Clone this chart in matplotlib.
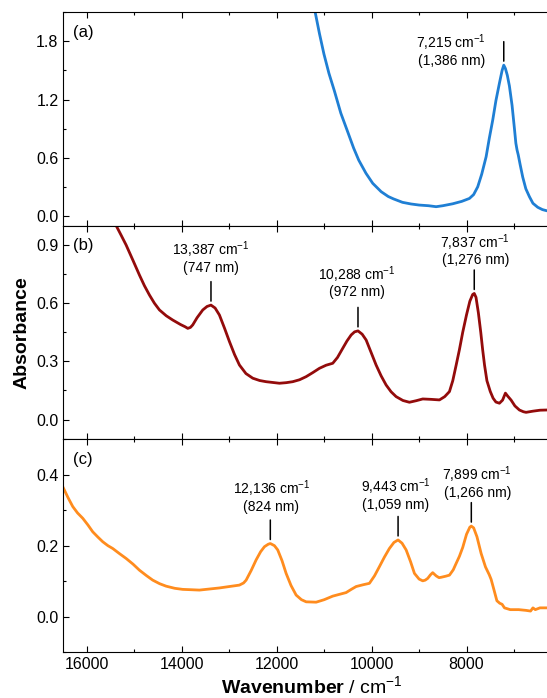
import numpy as np
import matplotlib
matplotlib.use('Agg')
import matplotlib.pyplot as plt
from matplotlib.ticker import MultipleLocator, FormatStrFormatter

plt.rcParams['font.family'] = ['Liberation Sans', 'DejaVu Sans']
plt.rcParams['mathtext.fontset'] = 'custom'
plt.rcParams['mathtext.rm'] = 'Liberation Sans'
plt.rcParams['mathtext.it'] = 'Liberation Sans:italic'
plt.rcParams['mathtext.bf'] = 'Liberation Sans:bold'

# ---------------------------------------------------------
# Spectra (wavenumber / cm-1, absorbance)
# ---------------------------------------------------------
wn_a = [11300, 11190, 11100, 11006, 10900, 10786, 10650, 10492, 10380, 10272,
        10120, 9977, 9800, 9650, 9537, 9350, 9170, 9000, 8800, 8641, 8500,
        8291, 8100, 7939, 7850, 7764, 7680, 7587, 7520, 7447, 7380, 7306,
        7250, 7215, 7180, 7140, 7096, 7040, 6990, 6960, 6935, 6910, 6870,
        6815, 6750, 6674, 6600, 6499, 6400, 6316, 6200, 6000]
abs_a = [2.35, 2.10, 1.88, 1.67, 1.47, 1.29, 1.06, 0.85, 0.70, 0.575,
         0.44, 0.336, 0.25, 0.20, 0.175, 0.14, 0.123, 0.112, 0.105, 0.095, 0.105,
         0.125, 0.15, 0.18, 0.22, 0.30, 0.43, 0.61, 0.80, 0.99, 1.19, 1.37,
         1.50, 1.555, 1.52, 1.45, 1.34, 1.14, 0.90, 0.75, 0.68, 0.63, 0.53,
         0.40, 0.28, 0.198, 0.13, 0.089, 0.065, 0.054, 0.045, 0.04]

wn_b = [15450, 15386, 15280, 15176, 15030, 14895, 14790, 14684, 14580, 14473,
        14330, 14193, 14030, 13930, 13876, 13820, 13771, 13680, 13560, 13470,
        13387, 13300, 13209, 13100, 12998, 12890, 12787, 12650, 12506, 12360,
        12225, 11944, 11800, 11664, 11520, 11381, 11240, 11101, 10960, 10820,
        10720, 10610, 10520, 10432, 10360, 10288, 10200, 10116, 10010, 9906,
        9800, 9695, 9590, 9484, 9340, 9204, 9060, 8923, 8750, 8571, 8460,
        8360, 8290, 8219, 8150, 8080, 8000, 7930, 7870, 7837, 7800, 7750,
        7700, 7660, 7620, 7570, 7500, 7440, 7380, 7306, 7240, 7180, 7130,
        7060, 6980, 6885, 6800, 6745, 6600, 6450, 6316, 6100]
abs_b = [1.05, 1.00, 0.95, 0.90, 0.82, 0.745, 0.69, 0.642, 0.60, 0.565,
         0.535, 0.513, 0.49, 0.478, 0.47, 0.475, 0.488, 0.525, 0.565, 0.583,
         0.59, 0.575, 0.539, 0.47, 0.402, 0.335, 0.281, 0.237, 0.213, 0.201,
         0.195, 0.187, 0.19, 0.195, 0.205, 0.221, 0.242, 0.264, 0.28, 0.29,
         0.32, 0.367, 0.405, 0.436, 0.452, 0.457, 0.44, 0.41, 0.345, 0.281,
         0.225, 0.178, 0.143, 0.118, 0.098, 0.089, 0.097, 0.106, 0.104, 0.101, 0.118,
         0.144, 0.20, 0.28, 0.36, 0.45, 0.54, 0.61, 0.645, 0.65, 0.63, 0.55,
         0.45, 0.36, 0.28, 0.20, 0.145, 0.11, 0.09, 0.084, 0.10, 0.136, 0.12,
         0.10, 0.07, 0.049, 0.04, 0.037, 0.043, 0.048, 0.049, 0.05]

wn_c = [16512, 16400, 16301, 16200, 16090, 15980, 15880, 15770, 15669, 15560,
        15458, 15320, 15176, 15030, 14895, 14750, 14615, 14470, 14332, 14150,
        13983, 13800, 13631, 13420, 13210, 13000, 12788, 12700, 12646, 12540,
        12435, 12340, 12260, 12180, 12136, 12050, 11980, 11890, 11803, 11700,
        11592, 11480, 11381, 11170, 11000, 10820, 10680, 10538, 10430, 10327,
        10180, 10047, 9940, 9836, 9730, 9626, 9530, 9443, 9360, 9273, 9180,
        9098, 9000, 8923, 8870, 8818, 8760, 8713, 8640, 8580, 8535, 8440,
        8360, 8280, 8219, 8150, 8080, 8000, 7930, 7899, 7850, 7780, 7692,
        7600, 7520, 7481, 7420, 7360, 7300, 7250, 7200, 7078, 6900, 6750,
        6650, 6600, 6550, 6452, 6300, 6100]
abs_c = [0.366, 0.335, 0.31, 0.292, 0.277, 0.258, 0.239, 0.224, 0.211, 0.20,
         0.192, 0.178, 0.164, 0.148, 0.131, 0.116, 0.103, 0.093, 0.086, 0.080,
         0.077, 0.076, 0.075, 0.078, 0.081, 0.085, 0.089, 0.095, 0.103, 0.13,
         0.16, 0.183, 0.197, 0.204, 0.206, 0.200, 0.188, 0.158, 0.122, 0.088,
         0.061, 0.048, 0.042, 0.041, 0.048, 0.058, 0.063, 0.068, 0.077, 0.085,
         0.09, 0.094, 0.115, 0.141, 0.168, 0.192, 0.209, 0.216, 0.207, 0.188, 0.155,
         0.122, 0.106, 0.101, 0.103, 0.108, 0.118, 0.124, 0.115, 0.110, 0.111, 0.114,
         0.117, 0.132, 0.15, 0.17, 0.195, 0.232, 0.252, 0.255, 0.25, 0.225, 0.178,
         0.14, 0.118, 0.105, 0.075, 0.045, 0.038, 0.035, 0.025, 0.02, 0.02, 0.018,
         0.016, 0.025, 0.02, 0.025, 0.025, 0.025]

# peak labels: (wavenumber, cm-1 text, nm text)
peaks_a = [(7215, '7,215', '1,386')]
peaks_b = [(13387, '13,387', '747'), (10288, '10,288', '972'), (7837, '7,837', '1,276')]
peaks_c = [(12136, '12,136', '824'), (9443, '9,443', '1,059'), (7899, '7,899', '1,266')]

panel_names = ['(a)', '(b)', '(c)']
colors = ['#1f7fd4', '#930b0b', '#ff8c1e']
ylims = [(-0.1, 2.1), (-0.1, 1.0), (-0.1, 0.5)]
ysteps = [0.6, 0.3, 0.2]

# label offsets (px) from each peak: (dx, dy line 1, dy line 2)
offs = [[(-52.5, 22.4, 4)],
        [(0, 55, 36.7), (-1, 56, 39), (1, 51, 33.5)],
        [(1, 55, 36.6), (-2.4, 53.3, 35), (6, 51, 33.4)]]

W, H = 547, 698
fig = plt.figure(figsize=(W / 100, H / 100), dpi=100)

left = 63.3 / W
width = 498.1 / W
ph = 213.3 / H
tops = [12.3, 225.6, 439.0]
pt = 0.72  # points per pixel

series = [(wn_a, abs_a, peaks_a), (wn_b, abs_b, peaks_b), (wn_c, abs_c, peaks_c)]
axes = []
for i, (wn, ab, peaks) in enumerate(series):
    ax = fig.add_axes([left, 1 - (tops[i] + 213.3) / H, width, ph])
    ax.plot(wn, ab, color=colors[i], lw=2.0, solid_joinstyle='round')
    ax.set_xlim(16500, 6000)
    ax.set_ylim(*ylims[i])
    ax.set_xticks([16000, 14000, 12000, 10000, 8000])
    ax.xaxis.set_minor_locator(MultipleLocator(1000))
    ax.yaxis.set_major_locator(MultipleLocator(ysteps[i]))
    ax.yaxis.set_minor_locator(MultipleLocator(ysteps[i] / 2))
    ax.yaxis.set_major_formatter(FormatStrFormatter('%.1f'))
    ax.tick_params(which='both', direction='in', top=True, bottom=True,
                   left=True, right=True, labelsize=11.5, width=0.8, pad=3.5)
    ax.tick_params(which='major', length=4)
    ax.tick_params(which='minor', length=2.5)
    for s in ax.spines.values():
        s.set_linewidth(0.8)
    if i < 2:
        ax.tick_params(labelbottom=False)

    ax.text(0.019, 0.906, panel_names[i], transform=ax.transAxes,
            fontsize=12, ha='left', va='center')

    x_rev = np.array(wn[::-1], dtype=float)
    y_rev = np.array(ab[::-1], dtype=float)
    for (pw, lab, nm), (dx, dy1, dy2) in zip(peaks, offs[i]):
        py = np.interp(pw, x_rev, y_rev)
        ax.annotate('', xy=(pw, py), xytext=(0, 23.5 * pt), textcoords='offset points',
                    arrowprops=dict(arrowstyle='-', color='k', lw=1.1,
                                    shrinkA=0, shrinkB=4 * pt))
        ax.annotate(lab + r' cm$^{-1}$', xy=(pw, py), xytext=(dx * pt, dy1 * pt),
                    textcoords='offset points', ha='center', va='center', fontsize=10)
        ax.annotate('(' + nm + ' nm)', xy=(pw, py), xytext=(dx * pt, dy2 * pt),
                    textcoords='offset points', ha='center', va='center', fontsize=10)
    axes.append(ax)

axes[2].set_xlabel(r'$\mathbf{Wavenumber}$ / cm$^{-1}$', fontsize=14, labelpad=2)
fig.text(21.6 / W, 1 - 332.3 / H, 'Absorbance', rotation=90, fontsize=14,
         fontweight='bold', ha='center', va='center')

fig.savefig('out.png', dpi=100)
